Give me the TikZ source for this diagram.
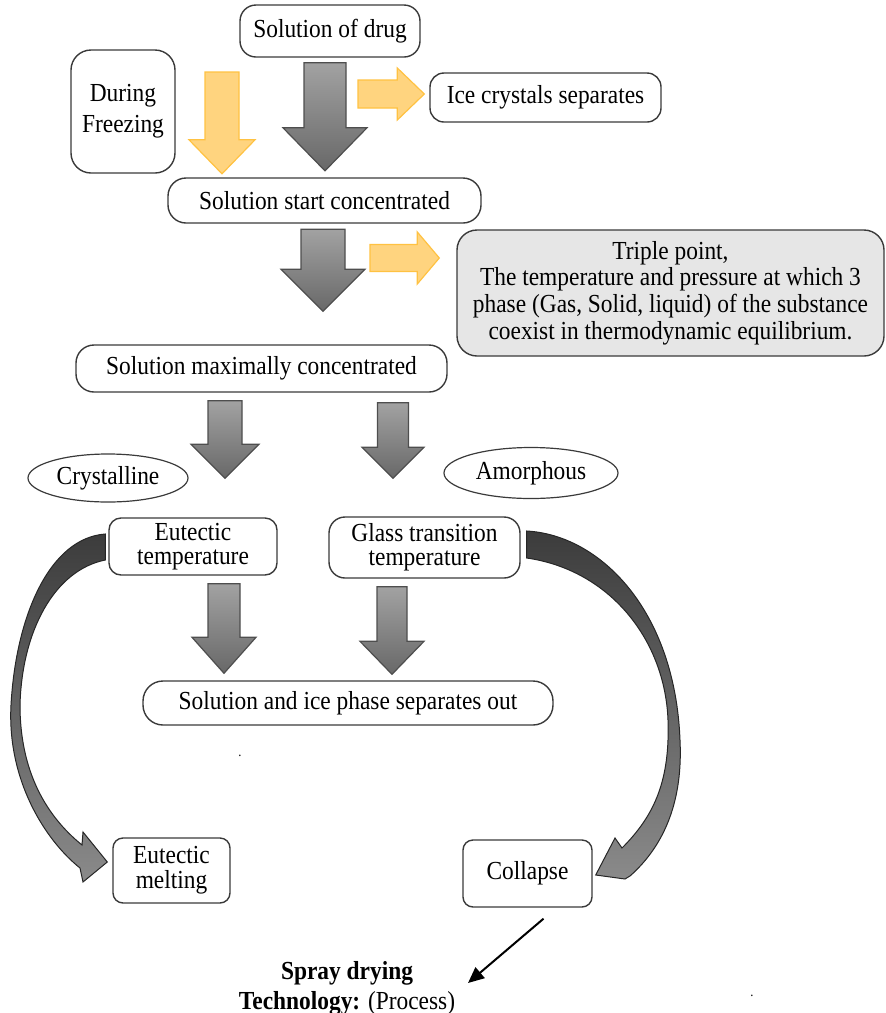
\documentclass[tikz,border=0pt]{standalone}
\usepackage{fontspec}
\setmainfont{Liberation Serif}[FakeStretch=0.9]
\usetikzlibrary{calc,shapes.geometric,arrows.meta,shadings}
\definecolor{boxline}{HTML}{3A3A3A}
\definecolor{triplefill}{HTML}{E6E6E6}
\definecolor{greytop}{HTML}{A2A2A2}
\definecolor{greybot}{HTML}{686868}
\definecolor{greyline}{HTML}{4E4E4E}
\definecolor{yelfill}{HTML}{FFD47F}
\definecolor{yelline}{HTML}{FFC242}
\definecolor{bandtop}{HTML}{3C3C3C}
\definecolor{bandbot}{HTML}{8A8A8A}
\newcommand{\blockdown}[6]{%
  \path[#1] let \p1=#2, \p2=#3 in
    (\x1-#4,\y1) -- (\x1+#4,\y1) -- (\x1+#4,\y2+#6) -- (\x1+#5,\y2+#6)
    -- (\x1,\y2) -- (\x1-#5,\y2+#6) -- (\x1-#4,\y2+#6) -- cycle;}
\newcommand{\blockright}[6]{%
  \path[#1] let \p1=#2, \p2=#3 in
    (\x1,\y1+#4) -- (\x2-#6,\y1+#4) -- (\x2-#6,\y1+#5) -- (\x2,\y1)
    -- (\x2-#6,\y1-#5) -- (\x2-#6,\y1-#4) -- (\x1,\y1-#4) -- cycle;}
\begin{document}
\begin{tikzpicture}[x=0.5pt,y=-0.5pt,
    font=\fontsize{13}{15}\selectfont,
    procbox/.style={draw=boxline,line width=0.7pt,rounded corners=7pt,align=center,inner sep=2pt},
    ovalbox/.style={draw=boxline,line width=0.6pt,ellipse,inner sep=1pt},
    greyarrow/.style={draw=greyline,line width=0.6pt,top color=greytop,bottom color=greybot},
    yellowarrow/.style={draw=yelline,line width=0.6pt,fill=yelfill},
    bandarrow/.style={draw=black!85,line width=0.5pt,top color=bandtop,bottom color=bandbot}]
      \useasboundingbox (0,0) rectangle (886,1013);
      \node[procbox,minimum width=90pt,minimum height=26pt,rounded corners=8pt] (drug) at (330,31) {Solution of drug};
      \node[procbox,minimum width=52pt,minimum height=61.5pt,rounded corners=10pt,font=\fontsize{13}{15.5}\selectfont] (freezing) at (123,111.5) {During\\Freezing};
      \node[procbox,minimum width=115.5pt,minimum height=24.5pt] (ice) at (545.5,97.5) {Ice crystals separates};
      \node[procbox,minimum width=156.5pt,minimum height=22.5pt,rounded corners=9pt] (startconc) at (324.5,200.5) {Solution start concentrated};
      \node[procbox,fill=triplefill,minimum width=213.5pt,minimum height=63pt,rounded corners=10pt,font=\fontsize{13}{13.4}\selectfont] (triple) at (670.5,293) {Triple point,\\The temperature and pressure at which 3\\phase (Gas, Solid, liquid) of the substance\\coexist in thermodynamic equilibrium.};
      \node[procbox,minimum width=185.5pt,minimum height=23.5pt,rounded corners=9pt] (maxconc) at (261.5,368.5) {Solution maximally concentrated};
      \node[ovalbox,minimum width=80pt,minimum height=24pt] (cryst) at (108,478) {Crystalline};
      \node[ovalbox,minimum width=87pt,minimum height=25.5pt] (amorph) at (531,473) {Amorphous};
      \node[procbox,minimum width=84pt,minimum height=28.5pt,rounded corners=6pt,font=\fontsize{13}{12.2}\selectfont] (eutemp) at (193,546.5) {Eutectic\\temperature};
      \node[procbox,minimum width=95.5pt,minimum height=30.5pt,rounded corners=8pt,font=\fontsize{13}{12.2}\selectfont] (glass) at (424.5,547.5) {Glass transition\\temperature};
      \node[procbox,minimum width=205pt,minimum height=22pt,rounded corners=10pt] (separate) at (348,703) {Solution and ice phase separates out};
      \node[procbox,minimum width=58.5pt,minimum height=32.5pt,rounded corners=5pt,font=\fontsize{13}{12.5}\selectfont] (melting) at (171.5,870.5) {Eutectic\\melting};
      \node[procbox,minimum width=64.5pt,minimum height=33.5pt,rounded corners=5pt] (collapse) at (527.5,873.5) {Collapse};
      \node[align=center] (spray) at (347,988) {\textbf{Spray drying}\\\textbf{Technology:} (Process)};
      \node[font=\scriptsize] (dotA) at (240,756) {.};
      \node[font=\scriptsize] (dotB) at (752,996) {.};
      \coordinate (frzfrom) at (222,72);
      \coordinate (icefrom) at (358,94);
      \coordinate (trifrom) at (370,258);
      \coordinate (sprayto) at (468,983);
      \blockdown{yellowarrow}{(frzfrom)}{([yshift=1.75pt]startconc.north)}{8.5pt}{16.5pt}{17pt}
      \blockright{yellowarrow}{(icefrom)}{([xshift=-2.5pt,yshift=1.5pt]ice.west)}{7pt}{13pt}{13.5pt}
      \blockright{yellowarrow}{(trifrom)}{([xshift=-8.5pt,yshift=17.5pt]triple.west)}{6.75pt}{13pt}{11pt}
      \blockdown{greyarrow}{([xshift=-2.5pt,yshift=-2.5pt]drug.south)}{([yshift=3.25pt]startconc.north)}{10.5pt}{21pt}{21.5pt}
      \blockdown{greyarrow}{([xshift=-0.75pt,yshift=-2.75pt]startconc.south)}{([yshift=16.5pt]maxconc.north)}{11pt}{21pt}{21pt}
      \blockdown{greyarrow}{([xshift=-18.25pt,yshift=-4pt]maxconc.south)}{([yshift=19.5pt]eutemp.north)}{8.5pt}{17pt}{17pt}
      \blockdown{greyarrow}{([xshift=65.75pt,yshift=-5pt]maxconc.south)}{([yshift=19pt]glass.north)}{7.75pt}{15.5pt}{15.5pt}
      \blockdown{greyarrow}{([xshift=15.5pt,yshift=-4pt]eutemp.south)}{([yshift=3.5pt]separate.north)}{8pt}{16pt}{18pt}
      \blockdown{greyarrow}{([xshift=-16.25pt,yshift=-4pt]glass.south)}{([yshift=3pt]separate.north)}{7.5pt}{16pt}{16.5pt}
      \path[bandarrow] ([xshift=-1.5pt,yshift=6.25pt]eutemp.west) .. controls (50,538) and (16,615) .. (11,705)
        .. controls (7,780) and (45,840) .. (80,868) -- (83,882)
        -- ([xshift=-2.5pt,yshift=4.25pt]melting.west) -- (83,832) -- (82,845)
        .. controls (45,815) and (20,770) .. (20,705)
        .. controls (22,630) and (55,570) .. ([xshift=-1.5pt,yshift=-6.75pt]eutemp.west) -- cycle;
      \path[bandarrow] ([xshift=3pt,yshift=8.25pt]glass.east) .. controls (600,535) and (675,610) .. (680,740)
        .. controls (683,800) and (665,845) .. (630,876) -- (625,879)
        -- ([xshift=1.5pt,yshift=-0.75pt]collapse.east) -- (615,838) -- (622,848)
        .. controls (655,815) and (670,780) .. (668,720)
        .. controls (665,640) and (610,570) .. ([xshift=3pt,yshift=-5.25pt]glass.east) -- cycle;
      \draw[line width=1pt,-{Triangle[length=8pt,width=7pt]}] ([xshift=8pt,yshift=-5.5pt]collapse.south) -- (sprayto);
    \end{tikzpicture}
\end{document}
